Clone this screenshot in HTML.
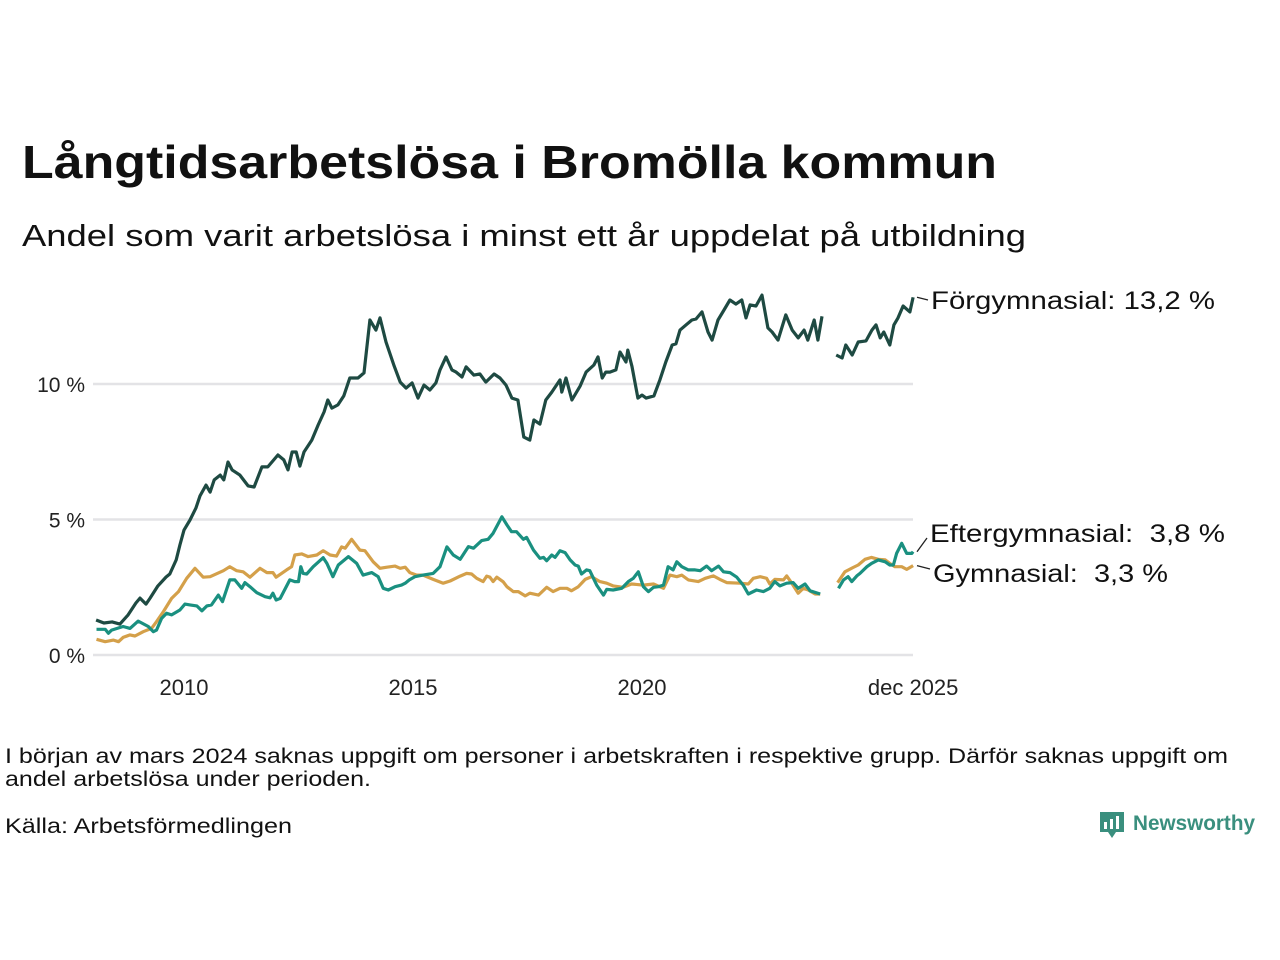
<!DOCTYPE html>
<html><head><meta charset="utf-8"><style>
html,body{margin:0;padding:0;background:#fff;}
svg{display:block;font-family:"Liberation Sans",sans-serif;}
</style></head><body>
<svg id="chart" width="1280" height="960" viewBox="0 0 1280 960" xmlns="http://www.w3.org/2000/svg">
<text x="22" y="178" font-size="46" font-weight="bold" fill="#111" textLength="975" lengthAdjust="spacingAndGlyphs">Långtidsarbetslösa i Bromölla kommun</text>
<text x="22" y="246" font-size="31" fill="#111" textLength="1004" lengthAdjust="spacingAndGlyphs">Andel som varit arbetslösa i minst ett år uppdelat på utbildning</text>
<g id="grid"></g>
<g id="yticks"></g>
<g id="xticks"></g>
<g id="lines"></g>
<g id="labels"></g>
<text x="5" y="763" font-size="21" fill="#111" textLength="1223" lengthAdjust="spacingAndGlyphs">I början av mars 2024 saknas uppgift om personer i arbetskraften i respektive grupp. Därför saknas uppgift om</text>
<text x="5" y="786" font-size="21" fill="#111" textLength="366" lengthAdjust="spacingAndGlyphs">andel arbetslösa under perioden.</text>
<text x="5" y="833" font-size="21" fill="#111" textLength="287" lengthAdjust="spacingAndGlyphs">Källa: Arbetsförmedlingen</text>
<g>
<path d="M1100 812 h24 v20 h-8 l-4 6 l-4 -6 h-8 z" fill="#3a8f7e"/>
<rect x="1104" y="822" width="3" height="7" fill="#fff"/><rect x="1110" y="819" width="3" height="10" fill="#fff"/><rect x="1116" y="816" width="3" height="13" fill="#fff"/>
<text x="1133" y="830" font-size="21" font-weight="bold" fill="#3a8f7e" textLength="122" lengthAdjust="spacingAndGlyphs">Newsworthy</text>
</g>
</svg>
<script>
const dates1=[2008.08,2008.25,2008.43,2008.6,2008.78,2008.95,2009.04,2009.17,2009.26,2009.43,2009.61,2009.69,2009.83,2009.91,2010,2010.13,2010.26,2010.35,2010.48,2010.57,2010.66,2010.79,2010.87,2010.96,2011.05,2011.22,2011.4,2011.53,2011.7,2011.83,2012.05,2012.18,2012.27,2012.36,2012.45,2012.53,2012.62,2012.79,2012.93,2013.06,2013.14,2013.23,2013.36,2013.49,2013.62,2013.8,2013.93,2014.06,2014.19,2014.28,2014.41,2014.59,2014.72,2014.85,2014.98,2015.11,2015.24,2015.37,2015.5,2015.59,2015.72,2015.85,2015.94,2016.07,2016.16,2016.33,2016.46,2016.59,2016.77,2016.9,2017.03,2017.16,2017.29,2017.42,2017.55,2017.64,2017.77,2017.9,2018.03,2018.21,2018.25,2018.34,2018.47,2018.65,2018.78,2018.95,2019.04,2019.13,2019.21,2019.3,2019.43,2019.52,2019.65,2019.69,2019.78,2019.91,2020,2020.09,2020.26,2020.39,2020.52,2020.66,2020.74,2020.83,2020.96,2021.09,2021.18,2021.31,2021.44,2021.53,2021.66,2021.79,2021.92,2022.05,2022.18,2022.27,2022.36,2022.49,2022.62,2022.75,2022.84,2022.97,2023.14,2023.28,2023.41,2023.54,2023.62,2023.76,2023.84,2023.93,2024.1,2024.24,2024.37,2024.45,2024.59,2024.72,2024.89,2025.02,2025.11,2025.2,2025.28,2025.41,2025.5,2025.59,2025.7,2025.85,2025.92];
const forgymnasial=[1.29,1.18,1.22,1.14,1.48,1.92,2.1,1.88,2.1,2.55,2.88,2.99,3.51,4.06,4.61,4.98,5.42,5.87,6.27,6.01,6.46,6.64,6.46,7.12,6.83,6.64,6.24,6.2,6.94,6.94,7.38,7.2,6.83,7.49,7.49,6.97,7.49,7.93,8.49,8.97,9.41,9.11,9.23,9.56,10.22,10.22,10.41,12.36,11.99,12.44,11.55,10.66,10.07,9.85,10.04,9.48,9.96,9.78,10.04,10.52,11.0,10.52,10.44,10.26,10.63,10.33,10.37,10.07,10.37,10.22,9.96,9.48,9.41,8.04,7.93,8.67,8.52,9.41,9.7,10.15,9.7,10.22,9.41,9.93,10.44,10.7,11.0,10.22,10.44,10.44,10.52,11.18,10.81,11.25,10.66,9.48,9.59,9.48,9.56,10.15,10.81,11.44,11.48,11.99,12.18,12.36,12.4,12.66,11.92,11.62,12.36,12.73,13.1,12.95,13.1,12.44,12.92,12.88,13.28,12.07,11.92,11.62,12.55,11.99,11.7,11.99,11.62,12.36,11.62,12.5,null,11.07,10.96,11.44,11.07,11.55,11.59,11.99,12.18,11.7,11.92,11.44,12.18,12.44,12.88,12.66,13.2];
const dates2=[2008.09,2008.28,2008.35,2008.42,2008.67,2008.82,2009.0,2009.22,2009.33,2009.4,2009.51,2009.62,2009.73,2009.91,2010.02,2010.13,2010.28,2010.39,2010.5,2010.6,2010.75,2010.84,2011.0,2011.11,2011.26,2011.33,2011.44,2011.59,2011.77,2011.88,2011.94,2012.01,2012.1,2012.31,2012.42,2012.5,2012.55,2012.6,2012.68,2012.82,2013.04,2013.12,2013.25,2013.37,2013.59,2013.77,2013.91,2014.1,2014.24,2014.35,2014.46,2014.61,2014.75,2014.83,2014.92,2015.04,2015.22,2015.44,2015.59,2015.74,2015.88,2016.03,2016.21,2016.32,2016.5,2016.64,2016.75,2016.94,2017.05,2017.15,2017.26,2017.41,2017.48,2017.63,2017.77,2017.85,2017.92,2018.03,2018.1,2018.21,2018.32,2018.43,2018.54,2018.61,2018.68,2018.79,2018.86,2019.01,2019.16,2019.23,2019.37,2019.56,2019.7,2019.81,2019.92,2020.03,2020.14,2020.25,2020.36,2020.47,2020.57,2020.68,2020.76,2020.87,2021.01,2021.16,2021.27,2021.41,2021.52,2021.67,2021.78,2021.92,2022.07,2022.21,2022.32,2022.5,2022.65,2022.79,2022.9,2023.01,2023.16,2023.3,2023.41,2023.56,2023.67,2023.89,2024.1,2024.29,2024.4,2024.5,2024.58,2024.69,2024.76,2024.91,2025.01,2025.16,2025.31,2025.41,2025.49,2025.56,2025.67,2025.78,2025.89,2025.92];
const eftergymnasial=[0.95,0.95,0.8,0.92,1.05,0.98,1.25,1.05,0.86,0.92,1.35,1.54,1.48,1.66,1.88,1.85,1.81,1.63,1.81,1.85,2.21,1.97,2.77,2.77,2.46,2.67,2.52,2.3,2.15,2.11,2.28,2.03,2.09,2.77,2.71,2.71,3.26,3.01,2.99,3.26,3.59,3.38,2.89,3.32,3.63,3.38,2.95,3.04,2.89,2.46,2.4,2.52,2.58,2.65,2.77,2.89,2.95,3.01,3.26,3.99,3.69,3.53,4.0,3.94,4.22,4.27,4.49,5.1,4.8,4.55,4.55,4.27,4.34,3.87,3.57,3.6,3.48,3.69,3.6,3.85,3.78,3.51,3.32,3.28,2.99,3.14,3.11,2.58,2.21,2.42,2.4,2.46,2.71,2.83,3.07,2.52,2.34,2.5,2.52,2.58,3.26,3.14,3.44,3.26,3.14,3.14,3.11,3.28,3.11,3.28,3.07,3.04,2.87,2.58,2.25,2.4,2.34,2.46,2.71,2.55,2.65,2.67,2.46,2.62,2.37,2.25,null,2.46,2.77,2.89,2.71,2.92,3.01,3.26,3.38,3.51,3.44,3.32,3.32,3.75,4.12,3.75,3.75,3.81];
const dates3=[2008.09,2008.28,2008.46,2008.57,2008.67,2008.82,2008.93,2009.11,2009.29,2009.4,2009.55,2009.73,2009.88,2010.06,2010.24,2010.42,2010.57,2010.86,2011.0,2011.15,2011.29,2011.44,2011.66,2011.81,2011.94,2012.01,2012.24,2012.35,2012.42,2012.57,2012.71,2012.9,2013.04,2013.19,2013.33,2013.44,2013.52,2013.66,2013.84,2013.95,2014.13,2014.28,2014.43,2014.61,2014.72,2014.83,2014.93,2015.08,2015.22,2015.44,2015.66,2015.81,2016.03,2016.17,2016.28,2016.39,2016.53,2016.61,2016.68,2016.75,2016.83,2016.97,2017.05,2017.19,2017.3,2017.45,2017.55,2017.74,2017.92,2018.06,2018.21,2018.36,2018.46,2018.61,2018.76,2018.9,2019.08,2019.23,2019.37,2019.59,2019.77,2020.03,2020.25,2020.47,2020.61,2020.76,2020.87,2021.01,2021.23,2021.38,2021.56,2021.7,2021.85,2022.14,2022.32,2022.43,2022.58,2022.72,2022.79,2022.9,2023.09,2023.16,2023.27,2023.41,2023.52,2023.63,2023.78,2023.89,2024.1,2024.27,2024.43,2024.61,2024.72,2024.87,2025.01,2025.16,2025.31,2025.41,2025.52,2025.67,2025.78,2025.92];
const gymnasial=[0.58,0.49,0.55,0.49,0.65,0.74,0.7,0.86,0.98,1.23,1.6,2.09,2.34,2.83,3.2,2.87,2.89,3.11,3.26,3.11,3.07,2.87,3.2,3.04,3.04,2.87,3.14,3.26,3.69,3.73,3.63,3.69,3.85,3.69,3.65,3.99,3.94,4.27,3.87,3.85,3.44,3.2,3.24,3.28,3.2,3.24,3.04,2.95,2.95,2.79,2.65,2.73,2.91,3.01,2.99,2.83,2.71,2.91,2.87,2.71,2.87,2.7,2.52,2.34,2.34,2.18,2.28,2.21,2.5,2.34,2.46,2.46,2.37,2.52,2.79,2.89,2.71,2.65,2.55,2.5,2.62,2.58,2.62,2.46,2.95,2.89,2.95,2.77,2.71,2.83,2.92,2.79,2.67,2.65,2.62,2.83,2.89,2.83,2.62,2.79,2.77,2.92,2.65,2.28,2.46,2.4,2.25,2.25,null,2.67,3.07,3.23,3.32,3.53,3.6,3.53,3.51,3.38,3.26,3.26,3.16,3.3];
const yTicks=[0,5,10];
const yTickLabels=["0 %","5 %","10 %"];
const xTicks=[2010,2015,2020,2025.92];
const xTickLabels=["2010","2015","2020","dec 2025"];
const seriesNames=["Förgymnasial: 13,2 %","Eftergymnasial:  3,8 %","Gymnasial:  3,3 %"];

const NS="http://www.w3.org/2000/svg";
const X=d=>184+(d-2010)*45.8;
const Y=v=>655-v*27.1;
function mk(tag,attrs,parent){const e=document.createElementNS(NS,tag);for(const k in attrs)e.setAttribute(k,attrs[k]);parent.appendChild(e);return e;}
const grid=document.getElementById('grid'),yt=document.getElementById('yticks'),xt=document.getElementById('xticks'),lines=document.getElementById('lines'),labels=document.getElementById('labels');
yTicks.forEach((v,i)=>{
  const l=mk('line',{x1:93,x2:913,y1:Y(v),y2:Y(v),stroke:'#e3e3e6','stroke-width':2.5},grid);
  
  
  const t=mk('text',{x:85,y:Y(v)+8,'text-anchor':'end','font-size':21,fill:'#222'},yt);
  t.textContent=yTickLabels[i];
  
  
});
xTicks.forEach((d,i)=>{
  const t=mk('text',{x:X(d),y:695,'text-anchor':'middle','font-size':22,fill:'#222'},xt);
  t.textContent=xTickLabels[i];
  
  
});
function pathFor(dates,vals){let d='',pen=false;for(let i=0;i<dates.length;i++){if(vals[i]==null){pen=false;continue;}d+=(pen?'L':'M')+X(dates[i]).toFixed(1)+' '+Y(vals[i]).toFixed(1);pen=true;}return d;}
const series=[[dates3,gymnasial,'#d4a04a','line-gymnasial'],[dates2,eftergymnasial,'#1a9080','line-eftergymnasial'],[dates1,forgymnasial,'#1e4a42','line-forgymnasial']];
series.forEach(s=>{
  const p=mk('path',{d:pathFor(s[0],s[1]),fill:'none',stroke:s[2],'stroke-width':3.2,'stroke-linejoin':'round'},lines);
  
  
});
const lastF=forgymnasial[forgymnasial.length-1],lastE=eftergymnasial[eftergymnasial.length-1],lastG=gymnasial[gymnasial.length-1];
const lab=[[Y(lastF),300,931,'label-forgymnasial',284],[Y(lastE),533,930,'label-eftergymnasial',295],[Y(lastG),573,933,'label-gymnasial',235]];
lab.forEach((L,i)=>{
  const ln=mk('line',{x1:917,y1:L[0],x2:L[2]-3,y2:L[1]+(i==1?5:(i==2?-4:0)),stroke:'#222','stroke-width':1.3},labels);
  
  
  const t=mk('text',{x:L[2],y:L[1]+9,'font-size':25,fill:'#111',textLength:L[4],lengthAdjust:'spacingAndGlyphs'},labels);
  t.setAttribute('xml:space','preserve');
  t.style.whiteSpace='pre';
  t.textContent=seriesNames[i];
  
  
});
</script>
</body></html>
